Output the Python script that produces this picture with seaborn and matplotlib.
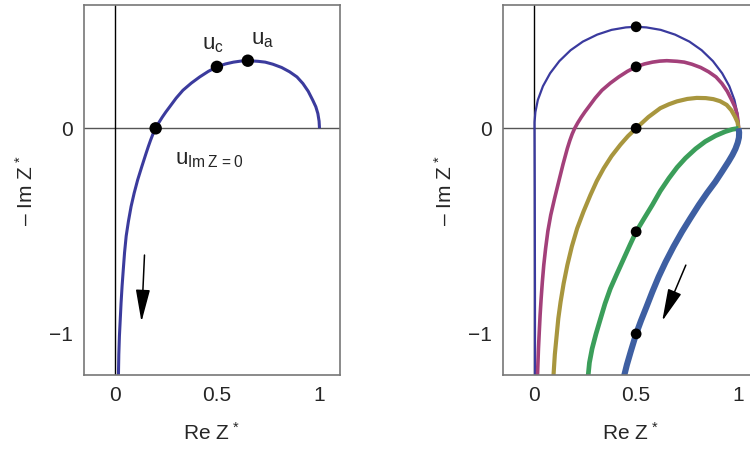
import numpy as np
import pandas as pd
import matplotlib
matplotlib.use("Agg")
import matplotlib.pyplot as plt
import seaborn as sns

# values (Re Z*, -Im Z*)
# upper arc shared by the left curve and the magenta curve on the right
top_re = [1.0, 0.998, 0.992, 0.982, 0.967, 0.945, 0.919, 0.89, 0.854, 0.815, 0.772, 0.735,
          0.70, 0.650, 0.615, 0.58, 0.54, 0.499, 0.457, 0.415, 0.374, 0.333, 0.3, 0.268,
          0.25, 0.232, 0.215, 0.2]
top_im = [0.0, 0.035, 0.072, 0.105, 0.137, 0.18, 0.218, 0.25, 0.275, 0.296, 0.312, 0.322,
          0.326, 0.329, 0.327, 0.322, 0.313, 0.299, 0.277, 0.25, 0.22, 0.185, 0.147, 0.104,
          0.08, 0.054, 0.027, 0.0]
# lower branches (left panel / magenta right panel)
left_low_re = [0.187, 0.175, 0.164, 0.153, 0.132, 0.112, 0.095, 0.080, 0.067, 0.056, 0.048,
               0.042, 0.036, 0.031, 0.027, 0.023, 0.020, 0.018]
left_low_im = [-0.027, -0.058, -0.089, -0.122, -0.187, -0.251, -0.315, -0.38, -0.452, -0.524,
               -0.605, -0.685, -0.767, -0.85, -0.93, -1.01, -1.10, -1.21]
mag_low_re = [0.188, 0.176, 0.164, 0.143, 0.123, 0.102, 0.083, 0.069, 0.058, 0.049, 0.042,
              0.036, 0.031, 0.027, 0.023, 0.018]
mag_low_im = [-0.027, -0.06, -0.098, -0.175, -0.255, -0.34, -0.422, -0.50, -0.584, -0.665,
              -0.747, -0.83, -0.91, -0.99, -1.072, -1.21]

# other right panel curves
blue_re = [1.0, 0.995, 0.98, 0.955, 0.92, 0.875, 0.82, 0.76, 0.69, 0.62, 0.55, 0.5, 0.45,
           0.38, 0.31, 0.24, 0.18, 0.125, 0.08, 0.045, 0.02, 0.008, 0.004, 0.004, 0.005,
           0.006, 0.006]
blue_im = [0.0, 0.07, 0.138, 0.205, 0.268, 0.327, 0.38, 0.422, 0.456, 0.479, 0.491, 0.494,
           0.491, 0.479, 0.456, 0.422, 0.38, 0.327, 0.268, 0.205, 0.138, 0.079, 0.03, 0.0,
           -0.3, -0.8, -1.21]
olive_re = [1.0, 0.995, 0.982, 0.965, 0.942, 0.91, 0.877, 0.84, 0.796, 0.75, 0.699, 0.66,
            0.618, 0.56, 0.5, 0.46, 0.423, 0.38, 0.342, 0.308, 0.277, 0.243, 0.212, 0.186,
            0.164, 0.146, 0.131, 0.12, 0.112, 0.103, 0.096]
olive_im = [0.0, 0.03, 0.058, 0.088, 0.114, 0.132, 0.142, 0.147, 0.148, 0.143, 0.131, 0.117,
            0.098, 0.055, 0.0, -0.038, -0.08, -0.135, -0.194, -0.256, -0.324, -0.405, -0.487,
            -0.575, -0.666, -0.755, -0.845, -0.925, -1.007, -1.10, -1.21]
green_re = [1.0, 0.97, 0.935, 0.888, 0.838, 0.79, 0.741, 0.70, 0.66, 0.618, 0.579, 0.538,
            0.5, 0.47, 0.44, 0.405, 0.374, 0.348, 0.326, 0.304, 0.285, 0.272, 0.265]
green_im = [0.0, -0.005, -0.016, -0.036, -0.064, -0.1, -0.145, -0.19, -0.243, -0.305, -0.373,
            -0.44, -0.503, -0.567, -0.633, -0.71, -0.78, -0.853, -0.926, -1.0, -1.072, -1.14,
            -1.21]
thick_re = [1.0, 1.003, 1.002, 0.996, 0.985, 0.97, 0.951, 0.92, 0.887, 0.846, 0.806, 0.765,
            0.724, 0.683, 0.644, 0.61, 0.579, 0.55, 0.524, 0.5, 0.474, 0.455, 0.44]
thick_im = [0.0, -0.02, -0.045, -0.07, -0.1, -0.13, -0.162, -0.21, -0.26, -0.315, -0.373,
            -0.437, -0.503, -0.575, -0.65, -0.722, -0.796, -0.87, -0.935, -1.0, -1.085, -1.15,
            -1.21]

left_dots_re = [0.2, 0.499, 0.650]
left_dots_im = [0.0, 0.299, 0.329]
right_dots_re = [0.5, 0.5, 0.5, 0.5, 0.5]
right_dots_im = [0.494, 0.299, 0.0, -0.503, -1.0]

sns.set_style("white")
plt.rcParams['font.family'] = ['Liberation Sans', 'DejaVu Sans']
plt.rcParams['mathtext.fontset'] = 'custom'
plt.rcParams['mathtext.rm'] = 'Liberation Sans'
plt.rcParams['mathtext.it'] = 'Liberation Sans'
plt.rcParams['axes.unicode_minus'] = True

fig = plt.figure(figsize=(7.5, 4.5), dpi=100)
ax1 = fig.add_axes([0.112, 0.1667, 0.3413, 0.8222])
ax2 = fig.add_axes([0.6707, 0.1667, 0.3413, 0.8222])


def draw_curve(ax, xs, ys, color, lw):
    df = pd.DataFrame({'re': xs, 'im': ys})
    sns.lineplot(data=df, x='re', y='im', sort=False, estimator=None, ax=ax,
                 color=color, lw=lw, solid_capstyle='butt', solid_joinstyle='round')


def style(ax):
    ax.set_xlim(-0.15, 1.1)
    ax.set_ylim(-1.2, 0.6)
    ax.axhline(0, color='#555555', lw=1.0, zorder=0)
    ax.axvline(0, color='black', lw=1.0, zorder=0)
    for s in ax.spines.values():
        s.set_color('#777777')
        s.set_linewidth(1.2)
    ax.set_xticks([0, 0.5, 1])
    ax.set_xticklabels(['0', '0.5', '1'])
    ax.set_yticks([-1, 0])
    ax.set_yticklabels(['\u22121', '0'])
    ax.tick_params(direction='in', length=4, width=1, color='#777777',
                   labelsize=15, pad=8)
    ax.set_xlabel('Re $\\mathregular{Z^{\\,*}}$', fontsize=15, labelpad=12)
    ax.set_ylabel('\u2013 Im $\\mathregular{Z^{\\,*}}$', fontsize=15, labelpad=9)


# left panel
draw_curve(ax1, top_re + left_low_re, top_im + left_low_im, '#3b3b9d', 2.2)
sns.scatterplot(x=left_dots_re, y=left_dots_im, ax=ax1, color='black', s=80,
                edgecolor='none', zorder=5)
ax1.text(0.425, 0.385, r'$\mathregular{u_c}$', fontsize=16)
ax1.text(0.665, 0.41, r'$\mathregular{u_a}$', fontsize=16)
ax1.text(0.295, -0.175, r'$\mathregular{u_{Im\,Z\,=0}}$', fontsize=16)
ax1.annotate('', xy=(0.130, -0.955), xytext=(0.146, -0.603),
             arrowprops=dict(arrowstyle='-|>,head_length=1.0,head_width=0.22',
                             color='black', lw=1.1, mutation_scale=20))
style(ax1)

# right panel
draw_curve(ax2, blue_re, blue_im, '#3a3a9e', 1.6)
draw_curve(ax2, top_re + mag_low_re, top_im + mag_low_im, '#a3407a', 2.6)
draw_curve(ax2, olive_re, olive_im, '#a8963e', 3.0)
draw_curve(ax2, green_re, green_im, '#3b9e5a', 3.4)
draw_curve(ax2, thick_re, thick_im, '#3e5fa2', 4.4)
sns.scatterplot(x=right_dots_re, y=right_dots_im, ax=ax2, color='black', s=60,
                edgecolor='none', zorder=5)
ax2.annotate('', xy=(0.622, -0.95), xytext=(0.748, -0.653),
             arrowprops=dict(arrowstyle='-|>,head_length=1.0,head_width=0.22',
                             color='black', lw=1.1, mutation_scale=20))
style(ax2)

fig.savefig('out.png', dpi=100)
